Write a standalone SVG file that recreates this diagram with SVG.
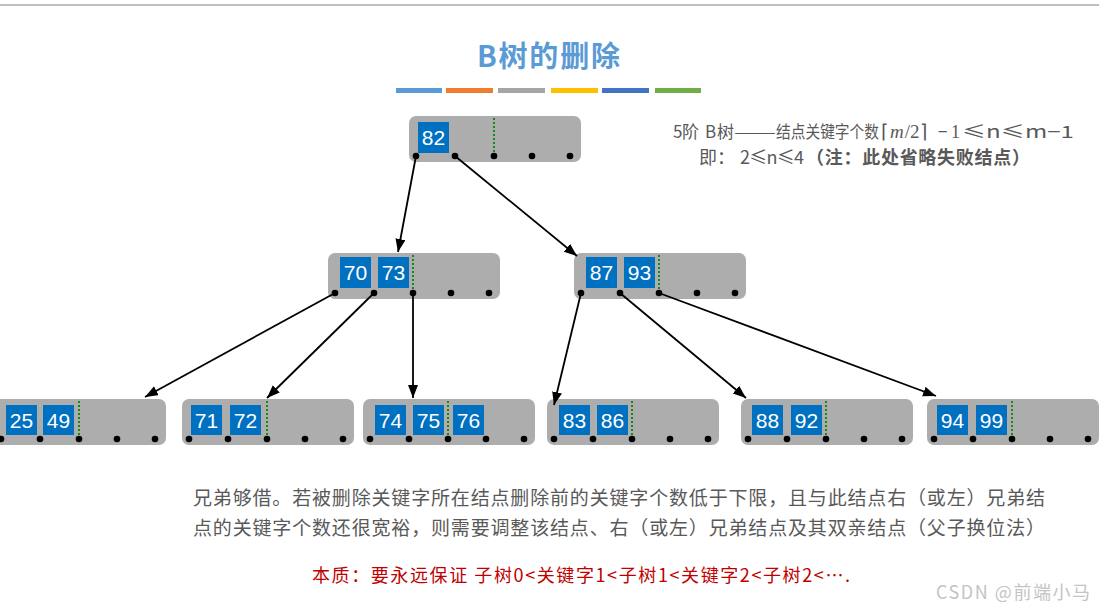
<svg xmlns="http://www.w3.org/2000/svg" xmlns:xlink="http://www.w3.org/1999/xlink" width="1099" height="610" viewBox="0 0 1099 610">
  <style>
    .box { fill: #adadad; }
    .key { fill: #0070c0; }
    .kt { font-family: "Liberation Sans", Arial, sans-serif; font-size: 21px; fill: #ffffff; text-anchor: middle; }
    .dot { fill: #000000; }
    .sep { stroke: #138a13; stroke-width: 2; stroke-dasharray: 2 2; }
    .edge { stroke: #000000; stroke-width: 1.8; fill: none; marker-end: url(#arrow); }
    .cjk { font-family: "Noto Sans CJK SC", "Liberation Sans", sans-serif; }
    .serif { font-family: "Liberation Serif", serif; }
    .note { fill: #595959; }
  </style>
  <defs>
    <marker id="arrow" markerUnits="userSpaceOnUse" markerWidth="14" markerHeight="11" refX="13" refY="5" orient="auto">
      <path d="M0,0 L13,5 L0,10 z" fill="#000000"/>
    </marker>
    <!-- empty node frame: body, separator and five child pointers -->
    <g id="frame">
      <rect class="box" x="0" y="0" width="172" height="46" rx="7"/>
      <line class="sep" x1="85" y1="2" x2="85" y2="38"/>
      <circle class="dot" cx="7" cy="40" r="3.3"/>
      <circle class="dot" cx="46" cy="40" r="3.3"/>
      <circle class="dot" cx="85" cy="40" r="3.3"/>
      <circle class="dot" cx="123" cy="40" r="3.3"/>
      <circle class="dot" cx="161" cy="40" r="3.3"/>
    </g>
  </defs>

  <rect x="0" y="4" width="1099" height="2" fill="#bfbfbf"/>

  <text x="548.5" y="67" text-anchor="middle" class="cjk" font-size="29" font-weight="bold" fill="#5b9bd5" textLength="143">B树的删除</text>

  <g id="colorbar">
    <rect x="396" y="88" width="46" height="5" fill="#5b9bd5"/>
    <rect x="446" y="88" width="47" height="5" fill="#ed7d31"/>
    <rect x="498" y="88" width="47" height="5" fill="#a5a5a5"/>
    <rect x="551" y="88" width="47" height="5" fill="#ffc000"/>
    <rect x="602" y="88" width="47" height="5" fill="#4472c4"/>
    <rect x="655" y="88" width="46" height="5" fill="#70ad47"/>
  </g>

  <g id="n82" transform="translate(409,116)">
    <use xlink:href="#frame"/>
    <rect class="key" x="9" y="6" width="31" height="31"/><text class="kt" x="24.5" y="29">82</text>
  </g>

  <g id="n70-73" transform="translate(328,253)">
    <use xlink:href="#frame"/>
    <rect class="key" x="12" y="4" width="31" height="31"/><text class="kt" x="27.5" y="27">70</text>
    <rect class="key" x="50" y="4" width="31" height="31"/><text class="kt" x="65.5" y="27">73</text>
  </g>

  <g id="n87-93" transform="translate(574,253)">
    <use xlink:href="#frame"/>
    <rect class="key" x="12" y="4" width="31" height="31"/><text class="kt" x="27.5" y="27">87</text>
    <rect class="key" x="50" y="4" width="31" height="31"/><text class="kt" x="65.5" y="27">93</text>
  </g>

  <g id="n25-49" transform="translate(-6,399)">
    <use xlink:href="#frame"/>
    <rect class="key" x="12" y="6" width="31" height="30"/><text class="kt" x="27.5" y="29">25</text>
    <rect class="key" x="49" y="6" width="31" height="30"/><text class="kt" x="64.5" y="29">49</text>
  </g>

  <g id="n71-72" transform="translate(182,399)">
    <use xlink:href="#frame"/>
    <rect class="key" x="9" y="6" width="31" height="30"/><text class="kt" x="24.5" y="29">71</text>
    <rect class="key" x="48" y="6" width="31" height="30"/><text class="kt" x="63.5" y="29">72</text>
  </g>

  <g id="n74-75-76" transform="translate(363,399)">
    <use xlink:href="#frame"/>
    <rect class="key" x="12" y="6" width="31" height="30"/><text class="kt" x="27.5" y="29">74</text>
    <rect class="key" x="50" y="6" width="31" height="30"/><text class="kt" x="65.5" y="29">75</text>
    <rect class="key" x="90" y="6" width="31" height="30"/><text class="kt" x="105.5" y="29">76</text>
    <line class="sep" x1="85" y1="2" x2="85" y2="38"/>
  </g>

  <g id="n83-86" transform="translate(547,399)">
    <use xlink:href="#frame"/>
    <rect class="key" x="12" y="6" width="31" height="30"/><text class="kt" x="27.5" y="29">83</text>
    <rect class="key" x="50" y="6" width="31" height="30"/><text class="kt" x="65.5" y="29">86</text>
  </g>

  <g id="n88-92" transform="translate(741,399)">
    <use xlink:href="#frame"/>
    <rect class="key" x="11" y="6" width="31" height="30"/><text class="kt" x="26.5" y="29">88</text>
    <rect class="key" x="50" y="6" width="31" height="30"/><text class="kt" x="65.5" y="29">92</text>
  </g>

  <g id="n94-99" transform="translate(927,399)">
    <use xlink:href="#frame"/>
    <rect class="key" x="10" y="6" width="31" height="30"/><text class="kt" x="25.5" y="29">94</text>
    <rect class="key" x="49" y="6" width="31" height="30"/><text class="kt" x="64.5" y="29">99</text>
  </g>

  <g id="connectors">
    <line class="edge" x1="416" y1="156" x2="398" y2="252"/>
    <line class="edge" x1="455" y1="156" x2="577" y2="256"/>
    <line class="edge" x1="335" y1="293" x2="145" y2="397"/>
    <line class="edge" x1="374" y1="293" x2="267" y2="398"/>
    <line class="edge" x1="413" y1="293" x2="413" y2="398"/>
    <line class="edge" x1="581" y1="293" x2="554" y2="405"/>
    <line class="edge" x1="620" y1="293" x2="746" y2="398"/>
    <line class="edge" x1="659" y1="293" x2="936" y2="396"/>
  </g>

  <g id="order-note" class="cjk note" font-size="17">
    <text y="138"><tspan x="673">5</tspan><tspan x="682">阶</tspan><tspan x="705">B</tspan><tspan x="717">树</tspan><tspan x="734" textLength="42" lengthAdjust="spacingAndGlyphs">——</tspan><tspan x="776" textLength="103" lengthAdjust="spacingAndGlyphs">结点关键字个数</tspan><tspan x="881" class="serif" font-size="19">⌈</tspan><tspan dx="2" class="serif" font-size="19" font-style="italic">m</tspan><tspan dx="1" class="serif" font-size="19">/2⌉</tspan><tspan x="938">−</tspan><tspan x="951" class="serif" font-size="18">1</tspan><tspan x="962" textLength="112" lengthAdjust="spacingAndGlyphs">≤n≤m−1</tspan></text>
    <text y="164" font-size="18"><tspan x="699">即：</tspan><tspan x="740" textLength="64" lengthAdjust="spacing">2≤n≤4</tspan><tspan x="806" font-weight="bold" textLength="224" lengthAdjust="spacing">（注：此处省略失败结点）</tspan></text>
  </g>

  <g id="description" class="cjk note" font-size="19">
    <text x="193" y="505" textLength="852" lengthAdjust="spacing">兄弟够借。若被删除关键字所在结点删除前的关键字个数低于下限，且与此结点右（或左）兄弟结</text>
    <text x="193" y="535" textLength="852" lengthAdjust="spacing">点的关键字个数还很宽裕，则需要调整该结点、右（或左）兄弟结点及其双亲结点（父子换位法）</text>
  </g>

  <text id="essence" class="cjk" x="312" y="582" font-size="18" fill="#c00000" textLength="538" lengthAdjust="spacing">本质：要永远保证 子树0&lt;关键字1&lt;子树1&lt;关键字2&lt;子树2&lt;….</text>

  <text id="watermark" class="cjk" x="936" y="599" font-size="18" fill="#c4c4c4" textLength="154" lengthAdjust="spacing">CSDN @前端小马</text>
</svg>
